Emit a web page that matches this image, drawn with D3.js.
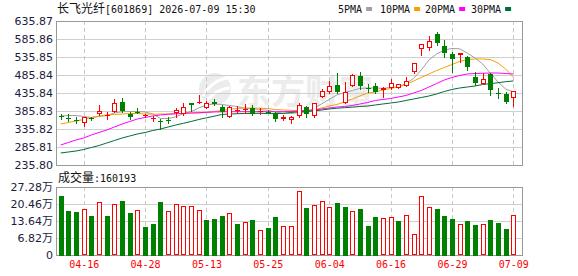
<!DOCTYPE html>
<html>
<head>
<meta charset="utf-8">
<script src="https://cdn.jsdelivr.net/npm/d3@7"></script>
<style>
body { margin: 0; background: #fff; }
svg { display: block; }
</style>
</head>
<body>
<svg id="chart" width="578" height="276"></svg>
<script>
// trading days shown on the chart
var dates = ["04-13","04-14","04-15","04-16","04-17","04-20","04-21","04-22","04-23","04-24",
  "04-27","04-28","04-29","04-30","05-06","05-07","05-08","05-11","05-12","05-13",
  "05-14","05-15","05-18","05-19","05-20","05-21","05-22","05-25","05-26","05-27",
  "05-28","05-29","06-01","06-02","06-03","06-04","06-05","06-08","06-09","06-10",
  "06-11","06-12","06-15","06-16","06-17","06-18","06-22","06-23","06-24","06-25",
  "06-26","06-29","06-30","07-01","07-02","07-03","07-06","07-07","07-08","07-09"];

var open = [372.0,367.2,360.3,351.7,366.9,376.7,374.2,383.9,410.3,376.7,
  382.8,374.2,365.0,356.7,361.4,381.1,376.9,406.7,406.9,394.2,
  410.8,397.8,368.3,388.0,390.0,393.3,383.9,384.2,381.1,364.4,
  360.8,372.0,397.8,372.0,423.9,437.8,458.1,407.2,456.5,483.1,
  448.9,455.3,444.2,448.9,450.6,455.3,495.0,557.2,560.0,598.9,
  566.4,544.2,541.4,535.8,480.3,461.7,487.8,435.6,433.1,421.1];
var high = [376.7,377.5,370.0,369.2,370.0,402.5,383.9,418.3,421.1,382.5,
  393.3,377.5,372.0,362.8,370.0,393.3,407.2,407.2,430.3,414.2,
  419.2,402.5,399.7,399.7,405.3,401.7,393.3,388.6,383.1,373.9,
  372.0,408.9,399.7,408.0,446.9,470.0,490.6,465.6,488.6,495.0,
  460.0,462.8,451.2,474.7,461.5,481.1,519.2,571.9,594.2,604.5,
  583.1,549.7,547.0,540.0,494.2,490.6,490.6,448.9,438.6,441.4];
var low = [362.8,358.9,351.7,345.5,362.1,376.1,362.8,383.1,383.9,362.8,
  379.4,368.3,358.9,336.4,353.3,370.0,376.1,386.7,406.9,393.3,
  402.5,369.2,368.3,379.4,381.1,376.1,377.5,379.0,358.9,360.8,
  353.3,368.3,368.3,368.3,423.4,437.2,434.9,406.7,454.3,446.1,
  438.6,434.9,425.6,448.3,449.7,454.5,490.6,541.4,555.3,569.2,
  535.8,493.3,522.8,499.7,458.1,459.5,430.3,422.8,407.2,400.6];
var close = [368.3,363.6,358.7,367.8,365.5,385.0,375.0,409.4,386.4,367.8,
  381.7,375.0,365.8,355.6,360.3,388.6,396.1,401.9,410.8,407.2,
  404.5,381.7,396.9,389.2,390.8,378.8,384.7,383.1,362.8,368.3,
  369.2,402.5,376.7,407.2,442.2,455.3,439.5,438.9,485.8,455.3,
  447.8,439.5,450.6,462.8,460.0,469.2,518.3,571.1,580.3,575.6,
  546.1,529.5,546.1,508.9,463.7,473.9,442.8,434.5,411.7,441.4];
var volume = [237900,177700,172500,185700,156500,212600,156500,204600,217800,168500,
  180500,112300,124400,213800,176500,204600,196600,196600,180500,140400,
  144400,156500,167300,124400,131200,140400,100300,108300,152400,115100,
  115100,255500,188600,199400,215400,191400,207400,192600,175300,184500,
  116300,152400,147200,151200,136400,159300,83000,235500,191400,184500,
  156500,144400,123200,136400,120400,123200,140400,128400,104300,160193];

var ma5 = [372.0,373.3,373.3,370.6,367.8,370.6,373.3,380.3,383.9,384.4,
  384.4,383.1,377.5,365.0,365.0,369.7,378.9,384.4,394.2,402.5,
  405.3,403.9,401.1,398.3,393.3,391.9,390.0,387.8,383.1,378.9,
  378.9,381.1,381.1,392.8,405.3,417.8,430.3,437.2,442.8,448.3,
  449.7,449.7,448.9,451.1,452.5,462.2,476.1,499.7,527.5,544.2,
  555.3,559.5,558.6,546.9,533.1,516.4,491.4,466.4,446.9,439.0];
var ma10 = [349.7,353.9,358.1,362.2,367.8,372.0,374.7,376.1,377.5,378.9,
  378.9,377.5,377.0,377.5,377.5,378.3,379.4,380.3,380.3,381.7,
  384.4,387.2,390.5,392.8,394.2,394.2,393.6,392.8,390.0,388.6,
  387.8,385.8,387.2,388.6,394.2,399.7,403.9,410.8,419.2,427.5,
  435.8,438.6,444.2,448.3,452.5,459.4,469.2,478.9,488.6,498.3,
  506.7,515.0,523.3,528.9,530.3,530.3,528.9,519.2,502.5,480.3];
var ma20 = [291.4,298.3,305.3,310.8,319.2,326.1,333.0,341.4,349.7,356.7,
  363.6,367.8,372.0,374.7,376.7,378.1,379.4,380.3,381.1,382.2,
  383.1,383.6,383.9,383.9,383.9,383.9,383.9,383.9,383.9,383.9,
  384.4,385.8,387.2,388.6,391.4,394.2,396.9,398.3,401.1,405.3,
  409.4,415.0,417.8,420.6,424.7,428.9,435.8,442.8,452.5,462.2,
  471.9,478.9,484.5,488.6,490.0,490.6,491.4,491.4,490.0,488.6];
var ma30 = [269.2,271.9,274.7,278.9,284.4,290.0,296.9,303.9,310.8,316.4,
  322.0,326.1,331.6,335.8,341.4,346.9,351.7,356.7,362.2,366.9,
  371.4,376.1,377.5,378.3,378.9,379.4,379.4,378.9,378.3,379.4,
  381.7,383.6,384.4,385.8,388.6,391.4,393.6,395.0,396.4,398.3,
  399.7,402.5,405.3,408.0,410.8,415.0,419.2,423.3,427.5,433.1,
  440.0,445.6,449.7,452.5,455.3,459.4,461.7,464.4,467.2,469.2];

var priceTicks = [235.80,285.81,335.82,385.83,435.84,485.84,535.85,585.86,635.87];
var volTicks = [0,68200,136400,204600,272800];
var dateTicks = ["04-16","04-28","05-13","05-25","06-04","06-16","06-29","07-09"];
var maNames = ["5PMA","10PMA","20PMA","30PMA"];
var maColors = ["#a0a0a0","#f5a000","#ff00ff","#006e37"];

var red = "#ff0000", green = "#008000";

var svg = d3.select("#chart");
var pLeft = 56, pRight = 522, pTop = 21, pBottom = 165, vTop = 187, vBottom = 255;

var x = d3.scalePoint().domain(dates).range([60.7, 513.3]);
var y = d3.scaleLinear().domain([235.80, 635.87]).range([pBottom, pTop]);
var yv = d3.scaleLinear().domain([0, 272800]).range([vBottom, vTop]);

var px = d => Math.round(x(d));

// watermark
var wm = svg.append("g").attr("fill", "#ececec");
wm.append("circle").attr("cx", 215).attr("cy", 89).attr("r", 16);
wm.append("path").attr("d", "M203,96 Q212,80 228,78").attr("stroke", "#fff").attr("stroke-width", 3).attr("fill", "none");
wm.append("path").attr("d", "M205,102 Q218,88 230,88").attr("stroke", "#fff").attr("stroke-width", 3).attr("fill", "none");
wm.append("text").attr("x", 237).attr("y", 104)
  .style("font-family", "Noto Sans CJK SC").style("font-size", "34px").style("font-weight", "bold")
  .text("东方财富");

// grid
var grid = svg.append("g");
grid.append("g").selectAll("line").data(priceTicks).join("line")
  .attr("x1", pLeft).attr("x2", pRight)
  .attr("y1", d => Math.round(y(d)) + 0.5).attr("y2", d => Math.round(y(d)) + 0.5)
  .attr("stroke", "#d0d0d0");
grid.append("g").selectAll("line").data(volTicks).join("line")
  .attr("x1", pLeft).attr("x2", pRight)
  .attr("y1", d => Math.round(yv(d)) + 0.5).attr("y2", d => Math.round(yv(d)) + 0.5)
  .attr("stroke", "#d0d0d0");
[[pTop, pBottom], [vTop, vBottom]].forEach(function (r) {
  grid.append("g").selectAll("line").data(dateTicks).join("line")
    .attr("x1", d => px(d) + 0.5).attr("x2", d => px(d) + 0.5)
    .attr("y1", r[0]).attr("y2", r[1])
    .attr("stroke", "#c8c8c8").attr("stroke-dasharray", "4,3");
});

// frames
svg.append("rect").attr("x", pLeft + 0.5).attr("y", pTop + 0.5)
  .attr("width", pRight - pLeft).attr("height", pBottom - pTop)
  .attr("fill", "none").attr("stroke", "#999");
svg.append("rect").attr("x", pLeft + 0.5).attr("y", vTop + 0.5)
  .attr("width", pRight - pLeft).attr("height", vBottom - vTop)
  .attr("fill", "none").attr("stroke", "#999");

// moving averages
[ma5, ma10, ma20, ma30].forEach(function (arr, k) {
  var line = d3.line().x((d, i) => x(dates[i])).y(d => y(d));
  svg.append("path").datum(arr)
    .attr("fill", "none").attr("stroke", maColors[k]).attr("stroke-width", 1)
    .attr("d", line);
});

// candles
var idx = d3.range(dates.length);
var up = i => close[i] >= open[i];
var cg = svg.append("g");
cg.selectAll("line").data(idx).join("line")
  .attr("x1", i => px(dates[i]) + 0.5).attr("x2", i => px(dates[i]) + 0.5)
  .attr("y1", i => Math.round(y(high[i]))).attr("y2", i => Math.round(y(low[i])) + 1)
  .attr("stroke", i => up(i) ? red : green);
cg.selectAll("rect").data(idx).join("rect")
  .each(function (i) {
    var t = Math.round(y(Math.max(open[i], close[i])));
    var b = Math.round(y(Math.min(open[i], close[i])));
    var h = Math.max(1, b - t);
    var el = d3.select(this);
    if (up(i) && h > 2) {
      el.attr("x", px(dates[i]) - 2 + 0.5).attr("y", t + 0.5)
        .attr("width", 4).attr("height", h - 1)
        .attr("fill", "#fff").attr("stroke", red);
    } else {
      el.attr("x", px(dates[i]) - 2).attr("y", t)
        .attr("width", 5).attr("height", h)
        .attr("fill", up(i) ? red : green);
    }
  });

// volume bars, coloured against the previous close
var vUp = i => i === 0 ? close[0] >= open[0] : close[i] >= close[i - 1];
svg.append("g").selectAll("rect").data(idx).join("rect")
  .each(function (i) {
    var t = Math.round(yv(volume[i]));
    var el = d3.select(this);
    if (vUp(i)) {
      el.attr("x", px(dates[i]) - 2 + 0.5).attr("y", t + 0.5)
        .attr("width", 4).attr("height", vBottom - t - 1)
        .attr("fill", "#fff").attr("stroke", red);
    } else {
      el.attr("x", px(dates[i]) - 2).attr("y", t)
        .attr("width", 5).attr("height", vBottom - t + 1)
        .attr("fill", green);
    }
  });

// axes
var axisFont = "DejaVu Sans, Noto Sans CJK SC";
var ya = svg.append("g").attr("transform", "translate(" + pLeft + ",0)")
  .call(d3.axisLeft(y).tickValues(priceTicks).tickSize(0).tickPadding(3).tickFormat(d3.format(".2f")));
var va = svg.append("g").attr("transform", "translate(" + pLeft + ",0)")
  .call(d3.axisLeft(yv).tickValues(volTicks).tickSize(0).tickPadding(3)
    .tickFormat(d => d === 0 ? "0" : (d / 10000).toFixed(2) + "万"));
[ya, va].forEach(function (g) {
  g.select(".domain").remove();
  g.selectAll("text").attr("fill", "#1c1c3c")
    .style("font-family", axisFont).style("font-size", "11px");
});
var xa = svg.append("g").attr("transform", "translate(0," + vBottom + ")")
  .call(d3.axisBottom(x).tickValues(dateTicks).tickSize(0).tickPadding(6));
xa.select(".domain").remove();
xa.selectAll("text").attr("fill", red)
  .style("font-family", "DejaVu Sans Mono").style("font-size", "10px");

// title
var title = svg.append("text").attr("x", 57).attr("y", 13).attr("fill", "#111");
title.append("tspan").style("font-family", "Noto Sans CJK SC").style("font-size", "12px").text("长飞光纤");
title.append("tspan").style("font-family", "DejaVu Sans Mono").style("font-size", "10px").text("[601869] 2026-07-09 15:30");

// legend
var legX = [338, 380, 425, 471];
var leg = svg.append("g");
maNames.forEach(function (n, k) {
  var t = leg.append("text").attr("x", legX[k]).attr("y", 13).attr("fill", "#111")
    .style("font-family", "DejaVu Sans Mono").style("font-size", "10px").text(n);
  var w = t.node().getComputedTextLength();
  leg.append("rect").attr("x", legX[k] + w + 4).attr("y", 7)
    .attr("width", 6).attr("height", 4).attr("fill", maColors[k]);
});

// volume caption
var vc = svg.append("text").attr("x", 58).attr("y", 182).attr("fill", "#111");
vc.append("tspan").style("font-family", "Noto Sans CJK SC").style("font-size", "12px").text("成交量");
vc.append("tspan").style("font-family", "DejaVu Sans Mono").style("font-size", "10px").text(":" + volume[volume.length - 1]);
</script>
</body>
</html>
